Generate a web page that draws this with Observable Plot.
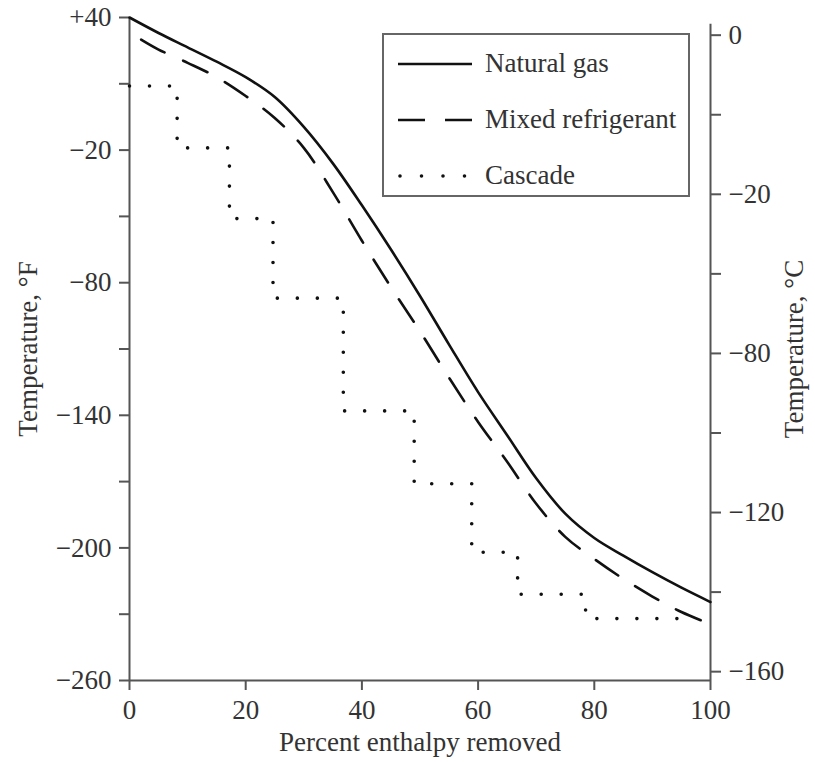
<!DOCTYPE html>
<html><head><meta charset="utf-8">
<script src="https://cdn.jsdelivr.net/npm/d3@7"></script>
<script src="https://cdn.jsdelivr.net/npm/@observablehq/plot@0.6"></script>
<style>
body{margin:0;background:#fff;}
#wrap{position:relative;width:815px;height:762px;font-family:"Liberation Serif",serif;color:#333;}
#legend{position:absolute;left:382px;top:33px;width:304px;height:160px;border:2px solid #666;background:#fff;}
.row{position:absolute;left:0;height:30px;width:300px;}
.row svg{position:absolute;left:14px;top:0;}
.row span{position:absolute;left:101px;top:-1px;line-height:30px;font-size:27px;color:#333;white-space:nowrap;}
</style></head><body><div id="wrap"></div>
<script>
// Natural gas (solid)
const ngPct = [0, 5, 10, 15, 20, 25, 30, 35, 40, 45, 50, 55, 60, 65, 70, 75, 80, 85, 90, 95, 100];
const ngTemp = [40, 33, 26.5, 20, 13, 4, -9.5, -26, -45, -65, -86, -108, -129.5, -149, -168.5, -184.5, -195.5, -203.5, -211, -218, -224.5];
// Mixed refrigerant (dashed)
const mrPct = [2, 5, 10, 15, 20, 25, 30, 35, 40, 45, 50, 55, 60, 65, 70, 75, 80, 85, 90, 95, 100];
const mrTemp = [30, 25.5, 19.5, 13, 4.5, -5.5, -19, -39, -61, -82, -102, -123, -143, -161, -180, -195, -205, -214, -222, -229, -234.5];
// Cascade (dotted steps)
const csPct = [0, 8.2, 17.2, 24.7, 36.8, 49, 58.9, 66.8, 78.5, 95.2];
const csTemp = [9, -19, -51, -87, -138, -171, -202, -221, -232, -232];

const xTicks = [0, 20, 40, 60, 80, 100];
const fMajor = [40, -20, -80, -140, -200, -260];
const fMinor = [10, -50, -110, -170, -230];
const cMajor = [0, -40, -80, -120, -160];
const cMajorLabels = ["0", "−20", "−80", "−120", "−160"];
const cMinor = [-20, -60, -100, -140];

const toF = c => c * 9 / 5 + 32;
const toC = f => Math.round((f - 32) * 5 / 9);
const fmtF = v => v > 0 ? "+" + v : v < 0 ? "−" + Math.abs(v) : "0";

const ng = ngPct.map((p, i) => ({pct: p, t: ngTemp[i]}));
const mr = mrPct.map((p, i) => ({pct: p, t: mrTemp[i]}));
const cs = csPct.map((p, i) => ({pct: p, t: csTemp[i]}));

const axisCol = "#555";
const chart = Plot.plot({
  width: 815, height: 762,
  marginLeft: 129, marginRight: 105, marginTop: 17, marginBottom: 82,
  x: {domain: [0, 100]},
  y: {domain: [-260, 40]},
  style: {fontFamily: "'Liberation Serif', serif", fontSize: "27px", color: "#333", background: "#fff", overflow: "visible"},
  marks: [
    Plot.ruleX([0], {stroke: axisCol, strokeWidth: 2}),
    Plot.ruleX([100], {y1: -260, y2: 37, stroke: axisCol, strokeWidth: 2}),
    Plot.ruleY([-260], {stroke: axisCol, strokeWidth: 2}),
    Plot.axisY(fMajor, {anchor: "left", tickSize: 10, tickPadding: 8, tickFormat: fmtF, stroke: axisCol, strokeWidth: 2,
      label: "Temperature, °F", labelAnchor: "center", labelOffset: 112, labelArrow: "none"}),
    Plot.axisY(fMinor, {anchor: "left", tickSize: 10, tickFormat: () => "", stroke: axisCol, strokeWidth: 2, label: null}),
    Plot.axisY(cMajor.map(toF), {anchor: "right", tickSize: 10, tickPadding: 8,
      tickFormat: f => cMajorLabels[cMajor.indexOf(toC(f))], stroke: axisCol, strokeWidth: 2,
      label: "Temperature, °C", labelAnchor: "center", labelOffset: 92, labelArrow: "none"}),
    Plot.axisY(cMinor.map(toF), {anchor: "right", tickSize: 10, tickFormat: () => "", stroke: axisCol, strokeWidth: 2, label: null}),
    Plot.axisX(xTicks, {anchor: "bottom", tickSize: 10, tickPadding: 9, stroke: axisCol, strokeWidth: 2,
      label: "Percent enthalpy removed", labelAnchor: "center", labelOffset: 70, labelArrow: "none"}),
    Plot.line(ng, {x: "pct", y: "t", stroke: "#111", strokeWidth: 2.6, curve: "catmull-rom"}),
    Plot.line(mr, {x: "pct", y: "t", stroke: "#111", strokeWidth: 2.6, curve: "catmull-rom", strokeDasharray: "27,20"}),
    Plot.line(cs, {x: "pct", y: "t", stroke: "#111", strokeWidth: 3.6, curve: "step-after", strokeDasharray: "0,20", strokeLinecap: "round"})
  ]
});
document.getElementById("wrap").appendChild(chart);

// Legend
const legendItems = ["Natural gas", "Mixed refrigerant", "Cascade"];
const legendDash = ["none", "27,20", "0,21.5"];
const legendCap = ["butt", "butt", "round"];
const legend = document.createElement("div");
legend.id = "legend";
legendItems.forEach((name, i) => {
  const row = document.createElement("div");
  row.className = "row";
  row.style.top = (14 + i * 56) + "px";
  row.innerHTML = `<svg width="80" height="30"><line x1="${i === 2 ? 2 : 0}" x2="74" y1="15" y2="15" stroke="#111" stroke-width="${i === 2 ? 3.6 : 2.6}" stroke-dasharray="${legendDash[i]}" stroke-linecap="${legendCap[i]}"/></svg><span>${name}</span>`;
  legend.appendChild(row);
});
document.getElementById("wrap").appendChild(legend);
</script>
</body></html>
